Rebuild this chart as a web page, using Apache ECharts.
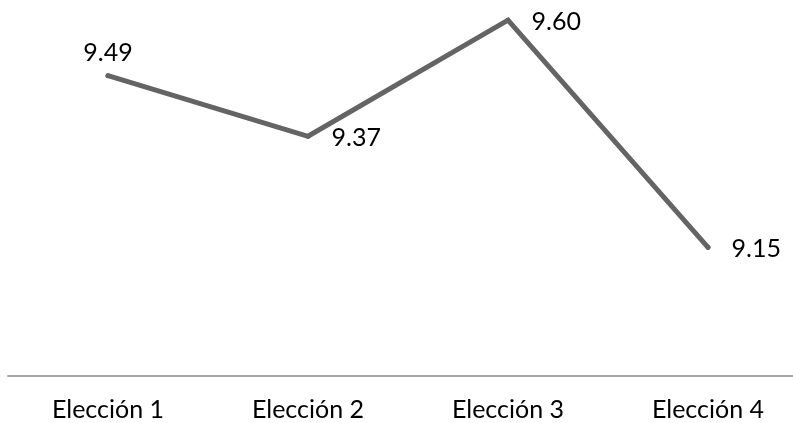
<!DOCTYPE html>
<html>
<head>
<meta charset="utf-8">
<script src="https://cdn.jsdelivr.net/npm/echarts@6/dist/echarts.min.js"></script>
<style>
  html, body { margin: 0; padding: 0; background: #ffffff; overflow: hidden; }
  /* the plot runs slightly past the right edge, like the axis line */
  #chart { width: 808px; height: 423px; }
</style>
</head>
<body>
<div id="chart"></div>
<script>
// Average score per election round
const categories = ['Elección 1', 'Elección 2', 'Elección 3', 'Elección 4'];
const scores = [9.49, 9.37, 9.60, 9.15];
// Where each value label sits relative to its point
const labelPositions = ['top', 'right', 'right', 'right'];

const FONT = 'Lato';

const chart = echarts.init(document.getElementById('chart'), null, { renderer: 'canvas' });

chart.setOption({
  animation: false,
  backgroundColor: '#ffffff',
  grid: { left: 8, right: 0, top: 0, bottom: 47, containLabel: false },
  xAxis: {
    type: 'category',
    data: categories,
    boundaryGap: true,
    axisLine: { show: true, lineStyle: { color: '#a6a6a6', width: 2 } },
    axisTick: { show: false },
    axisLabel: { color: '#000000', fontFamily: FONT, fontSize: 25, margin: 21 },
    splitLine: { show: false }
  },
  yAxis: {
    type: 'value',
    min: 8.895,
    max: 9.64,
    show: false,
    splitLine: { show: false }
  },
  series: [{
    type: 'line',
    data: scores.map((v, i) => ({
      value: v,
      label: {
        position: labelPositions[i],
        distance: labelPositions[i] === 'top' ? 8 : 21,
        offset: labelPositions[i] === 'top' ? [0, 0] : [0, 2]
      }
    })),
    symbol: 'circle',
    symbolSize: 5,
    showSymbol: true,
    itemStyle: { color: '#646464' },
    lineStyle: { color: '#646464', width: 5, cap: 'round', join: 'miter' },
    label: {
      show: true,
      formatter: p => p.value.toFixed(2),
      color: '#000000',
      fontFamily: FONT,
      fontSize: 25
    }
  }]
});
</script>
</body>
</html>
